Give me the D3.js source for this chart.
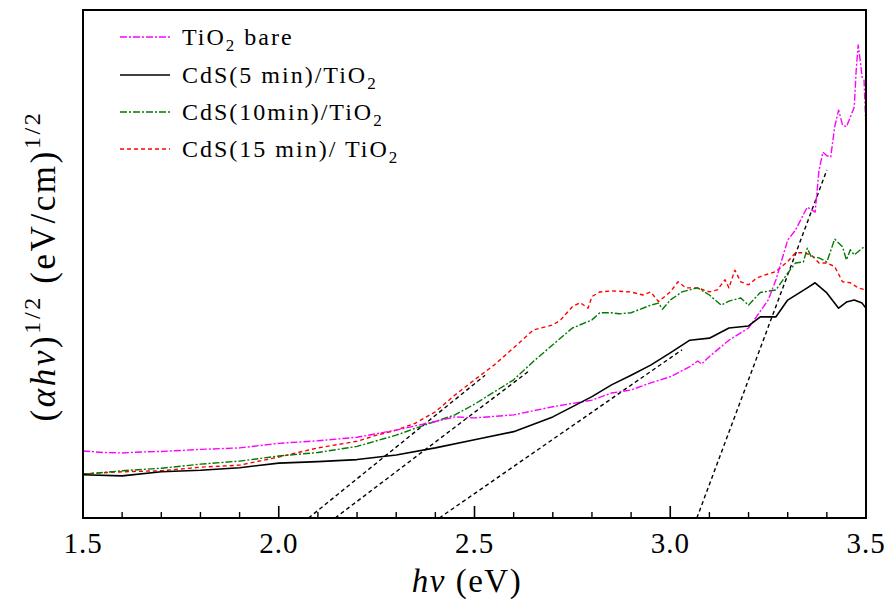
<!DOCTYPE html>
<html>
<head>
<meta charset="utf-8">
<script src="https://cdn.jsdelivr.net/npm/d3@7"></script>
<style>
  html, body { margin: 0; padding: 0; background: #fff; }
  svg { display: block; }
  svg text { font-family: "Liberation Serif", "DejaVu Serif", serif; }
</style>
</head>
<body>
<svg id="chart" width="896" height="613"></svg>
<script>
// ---------------- DATA ----------------
const xTicks = [1.5, 2.0, 2.5, 3.0, 3.5];

const tio2X = [1.5,1.55,1.6,1.65,1.7,1.8,1.9,2.0,2.1,2.2,2.3,2.4,2.45,2.5,2.6,2.7,2.8,2.85,2.9,2.95,3.0,3.05,3.07,3.08,3.1,3.15,3.2,3.22,3.25,3.27,3.3,3.32,3.35,3.37,3.38,3.39,3.4,3.41,3.42,3.43,3.44,3.45,3.46,3.47,3.475,3.48,3.485,3.49,3.495,3.5];
const tio2Y = [1.32,1.29,1.28,1.30,1.31,1.35,1.38,1.47,1.52,1.59,1.73,1.90,1.99,1.97,2.03,2.19,2.32,2.46,2.52,2.66,2.78,2.98,3.09,3.03,3.18,3.50,3.74,3.96,4.29,4.69,5.47,5.67,6.12,6.02,6.85,7.20,7.13,7.11,7.70,8.03,7.74,7.70,7.89,8.09,8.82,9.31,9.02,8.68,8.62,7.64];

const cds5X = [1.5,1.6,1.7,1.8,1.9,2.0,2.1,2.2,2.3,2.4,2.5,2.6,2.7,2.8,2.85,2.9,2.95,3.0,3.05,3.1,3.15,3.2,3.23,3.27,3.3,3.35,3.37,3.4,3.43,3.45,3.47,3.49,3.5];
const cds5Y = [0.85,0.83,0.91,0.94,0.99,1.08,1.11,1.15,1.24,1.38,1.54,1.70,1.99,2.39,2.62,2.81,3.01,3.25,3.50,3.54,3.74,3.78,3.96,3.96,4.29,4.53,4.63,4.43,4.13,4.25,4.29,4.23,4.13];

const cds10X = [1.5,1.6,1.7,1.8,1.9,2.0,2.1,2.2,2.3,2.35,2.4,2.45,2.5,2.55,2.6,2.65,2.7,2.75,2.8,2.82,2.85,2.87,2.9,2.95,2.97,2.98,3.0,3.03,3.05,3.07,3.1,3.13,3.15,3.18,3.2,3.23,3.27,3.3,3.32,3.34,3.35,3.36,3.38,3.4,3.42,3.44,3.45,3.46,3.47,3.5];
const cds10Y = [0.86,0.93,0.98,1.06,1.12,1.22,1.29,1.41,1.63,1.77,1.90,2.03,2.24,2.48,2.72,3.08,3.41,3.74,3.90,4.04,4.04,4.02,4.04,4.19,4.23,4.11,4.29,4.45,4.49,4.53,4.39,4.19,4.27,4.33,4.19,4.44,4.49,4.82,5.02,5.04,5.31,5.14,5.12,5.04,5.49,5.34,5.08,5.28,5.18,5.37];

const cds15X = [1.5,1.6,1.7,1.8,1.9,2.0,2.1,2.2,2.25,2.3,2.35,2.4,2.45,2.5,2.55,2.6,2.65,2.7,2.72,2.75,2.77,2.79,2.8,2.82,2.85,2.9,2.93,2.95,2.97,3.0,3.02,3.04,3.07,3.1,3.12,3.14,3.15,3.165,3.18,3.2,3.22,3.24,3.27,3.3,3.32,3.34,3.36,3.38,3.4,3.42,3.44,3.46,3.48,3.5];
const cds15Y = [0.87,0.91,0.93,1.00,1.04,1.20,1.38,1.51,1.63,1.73,1.87,2.09,2.42,2.72,3.01,3.35,3.70,3.80,3.90,4.16,4.24,4.13,4.36,4.45,4.47,4.45,4.39,4.45,4.26,4.45,4.65,4.53,4.53,4.45,4.49,4.69,4.53,4.88,4.65,4.59,4.72,4.78,4.85,5.05,5.22,5.22,5.18,5.02,5.02,4.95,4.65,4.63,4.53,4.49];

// tangent (band-gap extrapolation) lines: [x0, y0, x1, y1]
const tangentTiO2 = [3.068, 0, 3.40, 6.85];
const tangent5    = [2.41, 0, 3.03, 3.31];
const tangent10   = [2.144, 0, 2.642, 2.91];
const tangent15   = [2.076, 0, 2.527, 2.81];

const seriesNames = ["TiO2 bare", "CdS(5 min)/TiO2", "CdS(10min)/TiO2", "CdS(15 min)/ TiO2"];

// ---------------- CHART ----------------
const svg = d3.select("#chart");
const margin = {left: 83, top: 10, right: 30, bottom: 95};
const W = 896, H = 613;
const x = d3.scaleLinear().domain([1.5, 3.5]).range([margin.left, W - margin.right]);
const y = d3.scaleLinear().domain([0, 10]).range([H - margin.bottom, margin.top]);

svg.append("clipPath").attr("id", "clip")
  .append("rect").attr("x", x(1.5)).attr("y", y(10)).attr("width", x(3.5) - x(1.5)).attr("height", y(0) - y(10));

const styles = [
  {color: "#ff00ff", dash: "7,2,2,2", width: 1.4},
  {color: "#000000", dash: null, width: 1.6},
  {color: "#007a00", dash: "7,2,2,2", width: 1.4},
  {color: "#ff0000", dash: "4,3", width: 1.4}
];

const line = d3.line().x(d => x(d[0])).y(d => y(d[1]));
const data = [
  d3.zip(tio2X, tio2Y),
  d3.zip(cds5X, cds5Y),
  d3.zip(cds10X, cds10Y),
  d3.zip(cds15X, cds15Y)
];

const plot = svg.append("g").attr("clip-path", "url(#clip)");

[tangentTiO2, tangent5, tangent10, tangent15].forEach(t => {
  plot.append("path")
    .attr("d", line([[t[0], t[1]], [t[2], t[3]]]))
    .attr("fill", "none").attr("stroke", "#000").attr("stroke-width", 1.4)
    .attr("stroke-dasharray", "4,3");
});

[3, 2, 0, 1].forEach(i => {
  plot.append("path")
    .attr("d", line(data[i]))
    .attr("fill", "none")
    .attr("stroke", styles[i].color)
    .attr("stroke-width", styles[i].width)
    .attr("stroke-dasharray", styles[i].dash)
    .attr("stroke-linejoin", "round");
});

const minor = d3.range(1.6, 3.45, 0.1).map(v => +v.toFixed(1)).filter(v => !xTicks.includes(v));
const axisG = svg.append("g");
axisG.selectAll(".major").data(xTicks).join("line")
  .attr("x1", d => x(d)).attr("x2", d => x(d))
  .attr("y1", y(0)).attr("y2", y(0) - 12)
  .attr("stroke", "#000").attr("stroke-width", 1.6);
axisG.selectAll(".minor").data(minor).join("line")
  .attr("x1", d => x(d)).attr("x2", d => x(d))
  .attr("y1", y(0)).attr("y2", y(0) - 6)
  .attr("stroke", "#000").attr("stroke-width", 1.4);
axisG.selectAll(".lbl").data(xTicks).join("text")
  .attr("x", d => x(d)).attr("y", y(0) + 35)
  .attr("text-anchor", "middle").style("font-size", "29px").style("letter-spacing", "1px")
  .text(d3.format(".1f"));

svg.append("rect")
  .attr("x", x(1.5)).attr("y", y(10))
  .attr("width", x(3.5) - x(1.5)).attr("height", y(0) - y(10))
  .attr("fill", "none").attr("stroke", "#000").attr("stroke-width", 2);

const xt = svg.append("text").attr("x", 467).attr("y", 592)
  .attr("text-anchor", "middle").style("font-size", "33px").style("letter-spacing", "1.5px");
xt.append("tspan").style("font-style", "italic").text("hν");
xt.append("tspan").text(" (eV)");

const yt = svg.append("text")
  .attr("transform", `translate(55, 266) rotate(-90)`)
  .attr("text-anchor", "middle").style("font-size", "35px").style("letter-spacing", "2.6px");
yt.append("tspan").text("(");
yt.append("tspan").style("font-style", "italic").text("αhν");
yt.append("tspan").text(")");
yt.append("tspan").style("font-size", "24px").attr("dy", -15).text("1/2");
yt.append("tspan").attr("dy", 15).text(" (eV/cm)");
yt.append("tspan").style("font-size", "24px").attr("dy", -15).text("1/2");

const leg = svg.append("g");
const legRows = [45, 83, 120, 157];
[0, 1, 2, 3].forEach((i, k) => {
  const by = legRows[k];
  leg.append("line")
    .attr("x1", 120).attr("x2", 170).attr("y1", by - 8).attr("y2", by - 8)
    .attr("stroke", styles[i].color).attr("stroke-width", styles[i].width)
    .attr("stroke-dasharray", styles[i].dash);
  const t = leg.append("text").attr("x", 182).attr("y", by).style("font-size", "24px").style("letter-spacing", "2px");
  const name = seriesNames[i];
  const idx = name.lastIndexOf("TiO2");
  t.append("tspan").text(name.slice(0, idx) + "TiO");
  t.append("tspan").style("font-size", "17px").attr("dy", 6).text("2");
  const rest = name.slice(idx + 4);
  if (rest) t.append("tspan").attr("dy", -6).text(rest);
});
</script>
</body>
</html>
